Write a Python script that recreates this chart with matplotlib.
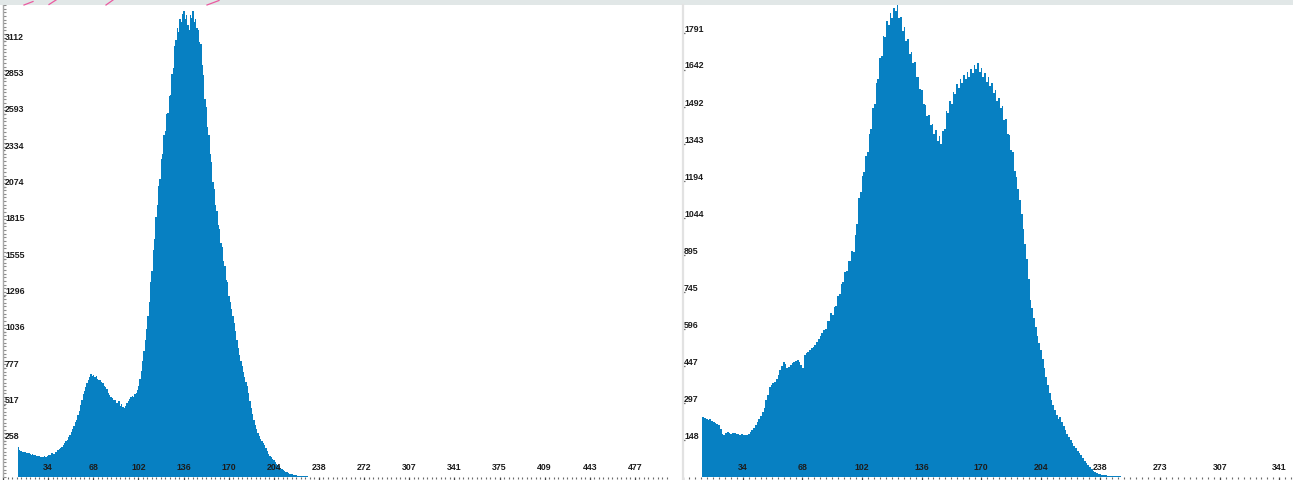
import matplotlib
matplotlib.use("Agg")
import matplotlib.pyplot as plt
from matplotlib.lines import Line2D
from matplotlib.patches import Rectangle
from matplotlib.transforms import blended_transform_factory

# ---- histogram data (counts per unit bin, first bin starts at 11) ----
left_start = 11
left_counts = [
    212, 195, 188, 180, 176, 182, 170, 168, 172, 165,
    160, 163, 155, 158, 150, 148, 152, 145, 140, 143,
    148, 146, 152, 160, 158, 168, 172, 165, 178, 182,
    190, 198, 205, 215, 228, 240, 255, 262, 285, 300,
    322, 345, 365, 392, 410, 440, 470, 515, 550, 590,
    615, 640, 668, 690, 712, 735, 722, 730, 715, 718,
    700, 690, 695, 680, 668, 650, 642, 628, 600, 588,
    570, 565, 548, 552, 530, 525, 540, 510, 518, 500,
    495, 505, 530, 545, 560, 568, 575, 572, 590, 600,
    620, 650, 700, 760, 830, 900, 980, 1060, 1150, 1250,
    1390, 1470, 1620, 1700, 1860, 1940, 2080, 2130, 2270, 2310,
    2440, 2470, 2590, 2600, 2720, 2730, 2880, 2920, 3080, 3120,
    3210, 3180, 3270, 3250, 3310, 3330, 3270, 3300, 3230, 3190,
    3300, 3280, 3325, 3250, 3270, 3210, 3190, 3110, 3090, 2940,
    2870, 2700, 2640, 2500, 2440, 2310, 2250, 2110, 2060, 1940,
    1900, 1800, 1770, 1670, 1640, 1540, 1510, 1410, 1390, 1290,
    1250, 1200, 1150, 1100, 1040, 980, 920, 870, 830, 790,
    750, 715, 680, 650, 600, 545, 490, 450, 405, 370,
    340, 315, 290, 270, 255, 240, 225, 205, 185, 165,
    150, 140, 130, 120, 108, 95, 85, 75, 65, 55,
    50, 44, 38, 33, 28, 24, 21, 18, 16, 14,
    12, 10, 9, 8, 7, 6, 5, 4, 4, 3,
    3, 2, 2, 2, 1, 1, 1, 1, 0, 0,
]

right_start = 11
right_counts = [
    242, 238, 234, 230, 232, 225, 222, 218, 215, 210,
    195, 172, 170, 176, 180, 178, 174, 178, 176, 172,
    175, 170, 173, 170, 168, 170, 175, 182, 190, 198,
    210, 222, 235, 248, 262, 280, 311, 330, 363, 372,
    380, 383, 395, 410, 432, 448, 464, 455, 440, 445,
    452, 460, 465, 468, 472, 462, 450, 440, 492, 500,
    505, 512, 520, 525, 532, 545, 555, 568, 580, 593,
    598, 628, 628, 660, 652, 684, 688, 730, 738, 780,
    788, 825, 832, 872, 870, 912, 908, 975, 1020, 1125,
    1150, 1215, 1230, 1295, 1310, 1385, 1405, 1490, 1505, 1590,
    1605, 1690, 1700, 1780, 1775, 1840, 1825, 1870, 1850, 1890,
    1880, 1904, 1850, 1855, 1800, 1815, 1760, 1765, 1705, 1715,
    1670, 1675, 1615, 1615, 1565, 1560, 1505, 1500, 1455, 1460,
    1420, 1425, 1385, 1400, 1355, 1375, 1345, 1395, 1405, 1475,
    1470, 1515, 1505, 1555, 1545, 1585, 1570, 1605, 1590, 1620,
    1605, 1632, 1612, 1645, 1628, 1662, 1645, 1668, 1632, 1648,
    1612, 1628, 1595, 1615, 1578, 1590, 1548, 1560, 1518, 1530,
    1490, 1495, 1440, 1445, 1385, 1380, 1320, 1310, 1235, 1210,
    1160, 1117, 1060, 1000, 940, 880, 800, 714, 680, 640,
    605, 570, 540, 512, 475, 440, 405, 370, 340, 311,
    290, 270, 250, 235, 242, 220, 205, 190, 175, 161,
    150, 138, 125, 115, 105, 97, 88, 75, 65, 55,
    48, 40, 33, 26, 20, 16, 13, 11, 9, 8,
    7, 6, 5, 5, 4, 4, 3, 3, 3, 2,
    2, 2, 2, 1, 1, 1, 1, 1, 0, 0,
]

# axis tick labels
x_tick_values_left = [34, 68, 102, 136, 170, 204, 238, 272, 307, 341, 375, 409, 443, 477]
x_tick_values_right = [34, 68, 102, 136, 170, 204, 238, 273, 307, 341]
y_tick_values_left = [258, 517, 777, 1036, 1296, 1555, 1815, 2074, 2334, 2593, 2853, 3112]
y_tick_values_right = [148, 297, 447, 596, 745, 895, 1044, 1194, 1343, 1492, 1642, 1791]

x_full_range = 511
x_divisions = 15

# ---- styling ----
BAR_COLOR = "#0780c2"
TEXT_COLOR = "#1c1c1c"
TICK_COLOR = "#6a6a6a"
FONT = ["Liberation Sans", "DejaVu Sans"]

W, H = 1293, 480
fig = plt.figure(figsize=(W / 100, H / 100), dpi=100)
fig.patch.set_facecolor("white")


def px_rect(x0, y0, x1, y1):
    return [x0 / W, 1 - y1 / H, (x1 - x0) / W, (y1 - y0) / H]


def style_panel(ax, xlim, ylim, xticks, yticks, ylabel_dx):
    ax.set_xlim(*xlim)
    ax.set_ylim(*ylim)
    for s in ax.spines.values():
        s.set_visible(False)
    ax.set_facecolor("white")

    # bottom ruler: major ticks at each division, minor every tenth
    step = x_full_range / x_divisions
    majors = [step * k for k in range(0, 40) if step * k <= xlim[1]]
    minors = [step * k / 10 for k in range(0, 400) if step * k / 10 <= xlim[1]]
    ax.set_xticks(majors)
    ax.set_xticks(minors, minor=True)
    ax.tick_params(axis="x", which="major", direction="out", length=2.4,
                   width=0.9, color="#444444", labelbottom=False)
    ax.tick_params(axis="x", which="minor", direction="out", length=1.2,
                   width=0.8, color=TICK_COLOR)

    ax.set_yticks(yticks)
    ax.tick_params(axis="y", which="major", direction="in", length=1.6,
                   width=0.9, color=TICK_COLOR, labelleft=False, pad=0)

    trans_x = blended_transform_factory(ax.transData, ax.transAxes)
    for v, lab in xticks:
        ax.annotate(lab, xy=(v, 0), xycoords=trans_x, xytext=(0, 9),
                    textcoords="offset pixels", ha="center", va="center",
                    fontsize=6.3, fontweight="bold", color=TEXT_COLOR,
                    family=FONT, zorder=5)
    trans_y = blended_transform_factory(ax.transAxes, ax.transData)
    for v in yticks:
        ax.annotate(str(v), xy=(0, v), xycoords=trans_y, xytext=(ylabel_dx, 4),
                    textcoords="offset pixels", ha="left", va="center",
                    fontsize=6.3, fontweight="bold", color=TEXT_COLOR,
                    family=FONT, zorder=5)


# ---- left panel ----
px_per_unit_left = 1.325
ax1 = fig.add_axes(px_rect(3, 5, 668, 477))
edges_l = list(range(left_start, left_start + len(left_counts) + 1))
ax1.stairs(left_counts, edges_l, fill=True, color=BAR_COLOR, linewidth=0, zorder=2)
style_panel(ax1, (0, 665 / px_per_unit_left), (0, (477 - 5) * 259.33 / 36.7),
            [(x_full_range * k / x_divisions, str(t))
             for k, t in enumerate(x_tick_values_left, start=1)],
            y_tick_values_left, 2)
# gray ruler along the left edge
ax1.spines["left"].set_visible(True)
ax1.spines["left"].set_color("#a8a8a8")
ax1.spines["left"].set_linewidth(1.0)
ax1.set_yticks([259.33 * k / 10 for k in range(0, 131)], minor=True)
ax1.tick_params(axis="y", which="minor", direction="in", length=2.2,
                width=0.8, color="#8c8c8c")

# ---- right panel ----
px_per_unit_right = 1.765
x0_right = (683 - 678) / px_per_unit_right
ax2 = fig.add_axes(px_rect(683, 5, 1293, 477))
edges_r = list(range(right_start, right_start + len(right_counts) + 1))
ax2.stairs(right_counts, edges_r, fill=True, color=BAR_COLOR, linewidth=0, zorder=2)
style_panel(ax2, (x0_right, x0_right + 610 / px_per_unit_right),
            (0, (477 - 5) * 149.25 / 37.0),
            [(x_full_range * k / x_divisions, str(t))
             for k, t in enumerate(x_tick_values_right, start=1)],
            y_tick_values_right, 1)

# ---- window chrome: top strip, panel separator, stray pen strokes ----
fig.add_artist(Rectangle((0, 1 - 5 / H), 1, 5 / H, transform=fig.transFigure,
                         facecolor="#e1e7e7", edgecolor="none", zorder=10))
fig.add_artist(Line2D([682.5 / W, 682.5 / W], [0, 1 - 5 / H], transform=fig.transFigure,
                      color="#e2e2e2", linewidth=1.6, zorder=10))
for (xa, ya), (xb, yb) in [((24, 5), (33, 1.5)), ((49, 4.5), (56, 0)),
                           ((106, 5), (113, 0)), ((207, 5), (219, 0.5))]:
    fig.add_artist(Line2D([xa / W, xb / W], [1 - ya / H, 1 - yb / H],
                          transform=fig.transFigure, color="#ea5aa0",
                          linewidth=0.9, zorder=11))

fig.savefig("out.png", dpi=100, facecolor="white")
